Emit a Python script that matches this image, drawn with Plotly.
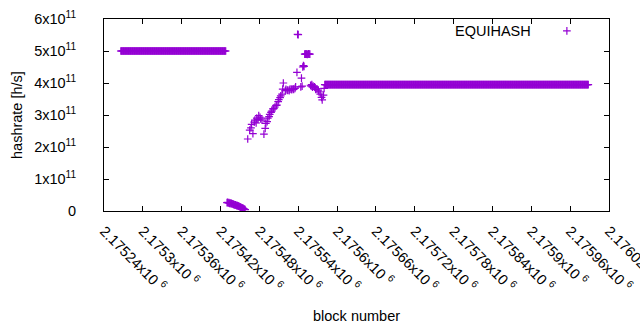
import plotly.graph_objects as go

# ---------------- data ----------------
# plateau at 5e11
high_blocks = list(range(2175266, 2175429))
high_vals = [5.0e11] * len(high_blocks)

# near-zero dip
low_blocks = list(range(2175430, 2175459))
low_vals = [2.6e10, 2.7e10, 2.5e10, 2.6e10, 2.4e10, 2.5e10, 2.3e10, 2.4e10, 2.2e10, 2.2e10,
            2.1e10, 2.0e10, 1.9e10, 1.9e10, 1.8e10, 1.7e10, 1.7e10, 1.6e10, 1.5e10, 1.4e10,
            1.3e10, 1.2e10, 1.1e10, 1.0e10, 0.9e10, 0.8e10, 0.7e10, 0.5e10, 0.4e10]

# recovery scatter
mid_blocks = [2175462, 2175465, 2175467, 2175468, 2175470, 2175472, 2175473, 2175475, 2175476,
              2175478, 2175479, 2175481, 2175482, 2175484, 2175487, 2175489, 2175490, 2175492,
              2175493, 2175495, 2175496, 2175498, 2175499, 2175501, 2175502, 2175504, 2175506,
              2175507, 2175509, 2175510, 2175512, 2175513, 2175515, 2175516, 2175517, 2175520,
              2175521, 2175523, 2175524, 2175526, 2175527, 2175529, 2175530, 2175532, 2175533,
              2175535, 2175536, 2175538, 2175539, 2175540, 2175544, 2175545, 2175546, 2175547,
              2175548, 2175549, 2175550, 2175551, 2175552, 2175553, 2175554, 2175555, 2175556,
              2175557, 2175558, 2175559, 2175560, 2175561, 2175562, 2175563, 2175565, 2175566,
              2175567, 2175569, 2175571, 2175572, 2175574, 2175576, 2175577, 2175579, 2175580]
mid_vals = [2.25e11, 2.53e11, 2.60e11, 2.71e11, 2.42e11, 2.78e11, 2.84e11, 2.75e11, 2.90e11,
            2.86e11, 2.98e11, 2.93e11, 2.88e11, 2.84e11, 2.40e11, 2.58e11, 2.74e11, 2.79e11,
            2.90e11, 2.95e11, 3.02e11, 3.08e11, 3.12e11, 3.19e11, 3.20e11, 3.25e11, 3.30e11,
            3.31e11, 3.42e11, 3.48e11, 3.54e11, 3.60e11, 3.65e11, 3.81e11, 4.00e11, 3.76e11,
            3.80e11, 3.77e11, 3.78e11, 3.76e11, 3.80e11, 3.81e11, 3.79e11, 3.82e11, 3.80e11,
            3.83e11, 3.88e11, 4.33e11, 5.52e11, 5.51e11, 3.88e11, 4.15e11, 3.90e11, 4.50e11,
            4.54e11, 4.52e11, 4.90e11, 4.90e11, 4.91e11, 4.90e11, 4.89e11, 4.90e11, 4.91e11,
            4.90e11, 4.90e11, 3.93e11, 3.90e11, 3.95e11, 3.87e11, 3.90e11, 3.88e11, 3.86e11,
            3.80e11, 3.82e11, 3.78e11, 3.72e11, 3.65e11, 3.55e11, 3.47e11, 3.62e11, 3.83e11]

# plateau at ~3.95e11
flat_blocks = list(range(2175581, 2175989))
flat_vals = [3.95e11] * len(flat_blocks)

blocks = high_blocks + low_blocks + mid_blocks + flat_blocks
hashrate = high_vals + low_vals + mid_vals + flat_vals

series_name = "EQUIHASH"

y_tickvals = [0, 1e11, 2e11, 3e11, 4e11, 5e11, 6e11]
y_ticktext = ["0", "1x10<sup>11</sup>", "2x10<sup>11</sup>", "3x10<sup>11</sup>",
              "4x10<sup>11</sup>", "5x10<sup>11</sup>", "6x10<sup>11</sup>"]

x_tickvals = [2175240, 2175300, 2175360, 2175420, 2175480, 2175540, 2175600,
              2175660, 2175720, 2175780, 2175840, 2175900, 2175960, 2176020]
x_ticktext = ["2.17524x10 <sup>6</sup>", "2.1753x10 <sup>6</sup>", "2.17536x10 <sup>6</sup>",
              "2.17542x10 <sup>6</sup>", "2.17548x10 <sup>6</sup>", "2.17554x10 <sup>6</sup>",
              "2.1756x10 <sup>6</sup>", "2.17566x10 <sup>6</sup>", "2.17572x10 <sup>6</sup>",
              "2.17578x10 <sup>6</sup>", "2.17584x10 <sup>6</sup>", "2.1759x10 <sup>6</sup>",
              "2.17596x10 <sup>6</sup>", "2.17602x10 <sup>6</sup>"]

COLOR = "#9400D3"
FONT = "Liberation Sans, Arial, sans-serif"

fig = go.Figure()
fig.add_trace(go.Scatter(
    x=blocks, y=hashrate, mode="markers", name=" ",
    marker=dict(symbol="cross-thin-open", size=5.5, color=COLOR,
                line=dict(color=COLOR, width=1.2)),
    showlegend=True,
))

axis_common = dict(showline=True, linecolor="black", linewidth=1, mirror="ticks",
                   ticks="inside", ticklen=5, tickcolor="black", tickwidth=1,
                   showgrid=False, zeroline=False)

fig.update_layout(
    width=640, height=330,
    margin=dict(l=104, r=31, t=19, b=119, autoexpand=False),
    paper_bgcolor="white", plot_bgcolor="white",
    font=dict(family=FONT, size=14.5, color="black"),
    xaxis=dict(range=[2175240, 2176020], tickmode="array", tickvals=x_tickvals,
               ticktext=x_ticktext, tickangle=45, automargin=False,
               ticklabeloverflow="allow", ticklabelstandoff=5, **axis_common),
    yaxis=dict(range=[0, 6e11], tickmode="array", tickvals=y_tickvals,
               ticktext=y_ticktext, automargin=False, ticklabelstandoff=24, **axis_common),
    showlegend=True,
    legend=dict(x=0.877, y=0.9375, xanchor="left", yanchor="middle",
                bgcolor="rgba(0,0,0,0)", borderwidth=0, font=dict(size=14.5)),
    annotations=[
        dict(text=series_name, xref="paper", yref="paper", x=0.8495, y=0.9375,
             xanchor="right", yanchor="middle", showarrow=False, font=dict(size=14.5)),
        dict(text="block number", xref="paper", yref="paper", x=0.5, y=0,
             xanchor="center", yanchor="middle", yshift=-105, showarrow=False,
             font=dict(size=14.5)),
        dict(text="hashrate [h/s]", xref="paper", yref="paper", x=0, y=0.5,
             xanchor="center", yanchor="middle", xshift=-87, textangle=-90,
             showarrow=False, font=dict(size=14.5)),
    ],
)

fig.write_html("out.html", config={"displayModeBar": False},
               post_script="document.body.style.margin='0';")
